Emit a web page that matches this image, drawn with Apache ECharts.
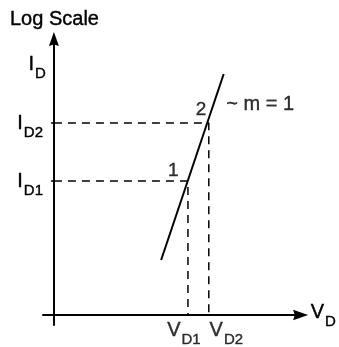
<!DOCTYPE html>
<html>
<head>
<meta charset="utf-8">
<script src="https://cdn.jsdelivr.net/npm/echarts@6/dist/echarts.min.js"></script>
<style>
  html, body { margin: 0; padding: 0; background: #fff; }
  #chart { width: 339px; height: 347px; }
</style>
</head>
<body>
<div id="chart"></div>
<script>
// Diode characteristic: log(I_D) against V_D (arbitrary units)
const axisTitle = 'Log Scale';
const xName = ['V', 'D'];
const yName = ['I', 'D'];

// Operating points 1 and 2
const pointNames = ['1', '2'];
const vD = [13.5, 15.6];
const iD = [13.4, 19.2];
const vLabels = [['V', 'D1'], ['V', 'D2']];
const iLabels = [['I', 'D1'], ['I', 'D2']];

// Straight segment of the characteristic
const curveV = [10.8, 17.1];
const curveI = [5.5, 24.1];
const slopeText = '~ m = 1';

const FONT = '"Liberation Sans", Arial, Helvetica, sans-serif';
const INK = '#000';
const ARROW = 'path://M5,0L10,14L5,12.5L0,14Z';

// slightly heavier strokes for all lettering
const heavy = { textBorderColor: INK, textBorderWidth: 0.4 };

// main letter plus lowered subscript
const subRich = {
  m: Object.assign({ fontSize: 20, lineHeight: 20, verticalAlign: 'top', fontFamily: FONT, color: INK }, heavy),
  s: Object.assign({ fontSize: 15, lineHeight: 15, verticalAlign: 'top', padding: [12, 0, 0, 1], fontFamily: FONT, color: INK }, heavy)
};
const subText = (pair) => '{m|' + pair[0] + '}{s|' + pair[1] + '}';

const guideSeries = vD.map((v, i) => ({
  type: 'line',
  silent: true,
  symbol: 'none',
  data: [[0, iD[i]], [v, iD[i]], [v, 0]],
  lineStyle: { color: INK, width: 1.5, type: [8, 6] },
  z: 2
}));

const chart = echarts.init(document.getElementById('chart'), null, { renderer: 'canvas' });

chart.setOption({
  animation: false,
  backgroundColor: '#fff',
  title: {
    text: axisTitle,
    left: 5,
    top: 4,
    textStyle: Object.assign({ fontSize: 20, fontWeight: 'normal', color: INK, fontFamily: FONT }, heavy)
  },
  grid: { left: 43, right: 36.5, top: 39, bottom: 22 },
  xAxis: {
    type: 'value',
    min: -1.1,
    max: 24.85,
    name: subText(xName),
    nameLocation: 'end',
    nameGap: 10,
    nameTextStyle: { rich: subRich, align: 'left', verticalAlign: 'middle', padding: [0, 0, 5, 0] },
    axisLine: {
      onZero: true,
      symbol: ['none', ARROW],
      symbolSize: [11, 15],
      lineStyle: { color: INK, width: 2 }
    },
    axisTick: { show: false },
    axisLabel: { show: false },
    splitLine: { show: false }
  },
  yAxis: {
    type: 'value',
    min: -1.0,
    max: 27.6,
    name: subText(yName),
    nameLocation: 'end',
    nameGap: -25,
    nameTextStyle: { rich: subRich, align: 'right', verticalAlign: 'middle', padding: [0, 8, 0, 0] },
    axisLine: {
      onZero: true,
      symbol: ['none', ARROW],
      symbolSize: [13, 14],
      lineStyle: { color: INK, width: 2 }
    },
    axisTick: { show: true, customValues: iD, length: 3, lineStyle: { color: INK, width: 1.5 } },
    axisLabel: {
      show: true,
      customValues: iD,
      margin: 0,
      formatter: (val) => subText(iLabels[iD.indexOf(val)]),
      rich: subRich
    },
    splitLine: { show: false }
  },
  series: [
    ...guideSeries,
    {
      type: 'line',
      silent: true,
      symbol: 'none',
      data: curveV.map((v, i) => [v, curveI[i]]),
      lineStyle: { color: INK, width: 2 },
      z: 3
    },
    {
      // point numbers
      type: 'scatter',
      silent: true,
      symbolSize: 1,
      itemStyle: { color: 'rgba(0,0,0,0)' },
      data: [
        { value: [vD[0], iD[0]], name: pointNames[0], label: { offset: [-5, -10.5] } },
        { value: [vD[1], iD[1]], name: pointNames[1], label: { offset: [2, -13] } }
      ],
      label: Object.assign({
        show: true,
        position: 'left',
        distance: 4,
        formatter: '{b}',
        fontSize: 19,
        color: INK,
        fontFamily: FONT
      }, heavy),
      z: 4
    },
    {
      // slope annotation next to point 2
      type: 'scatter',
      silent: true,
      symbolSize: 1,
      itemStyle: { color: 'rgba(0,0,0,0)' },
      data: [{ value: [vD[1], iD[1]], name: slopeText }],
      label: Object.assign({
        show: true,
        position: 'right',
        distance: 0,
        offset: [17, -18.5],
        formatter: '{b}',
        fontSize: 20,
        color: INK,
        fontFamily: FONT
      }, heavy),
      z: 4
    },
    {
      // voltage labels under the axis
      type: 'scatter',
      silent: true,
      symbolSize: 1,
      itemStyle: { color: 'rgba(0,0,0,0)' },
      data: [
        { value: [vD[0], 0], name: subText(vLabels[0]), label: { offset: [-4, 0] } },
        { value: [vD[1], 0], name: subText(vLabels[1]), label: { offset: [17.5, 0] } }
      ],
      label: {
        show: true,
        position: 'bottom',
        distance: 5,
        formatter: '{b}',
        rich: subRich
      },
      z: 4
    }
  ]
});
</script>
</body>
</html>
